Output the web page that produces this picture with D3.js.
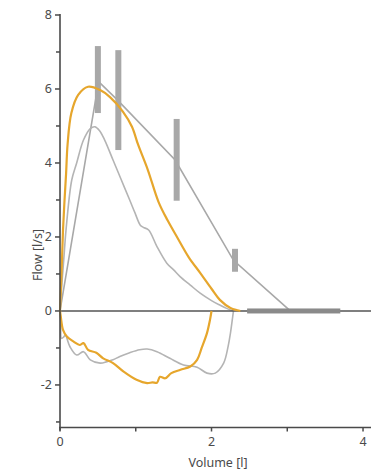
<!DOCTYPE html>
<html>
<head>
<meta charset="utf-8">
<script src="https://cdn.jsdelivr.net/npm/d3@7/dist/d3.min.js"></script>
<style>
  html, body { margin: 0; padding: 0; background: #fff; }
  svg { display: block; font-family: "Noto Sans", "Open Sans", sans-serif; }
</style>
</head>
<body>
<div id="chart"></div>
<script>
// Axis ticks
const xTicks = [0, 2, 4];
const xMinorTicks = [1, 3];
const yTicks = [-2, 0, 2, 4, 6, 8];
const yMinorTicks = [-3, -1, 1, 3, 5, 7];

// Predicted curve: origin, PEF, MEF75, MEF50, MEF25, FVC
const predVolume = [0, 0.51, 0.76, 1.52, 2.29, 3.04];
const predFlow   = [0, 6.2, 5.7, 4.08, 1.37, 0];

// Normal ranges at each predicted point (volume, low, high)
const rangeVolume = [0.50, 0.77, 1.54, 2.31];
const rangeLow    = [5.35, 4.35, 2.98, 1.06];
const rangeHigh   = [7.16, 7.05, 5.19, 1.68];

// FVC range on the volume axis
const fvcRange = [2.47, 3.70];

// Measured expiration (current)
const expVolume = [0, 0.02, 0.04, 0.06, 0.08, 0.10, 0.15, 0.24, 0.37, 0.53, 0.66, 0.83, 0.95, 1.03, 1.16, 1.30, 1.42, 1.55, 1.70, 1.85, 2.00, 2.11, 2.25, 2.34, 2.38];
const expFlow   = [0, 1.0, 2.2, 3.0, 3.7, 4.5, 5.35, 5.84, 6.06, 5.97, 5.78, 5.39, 4.98, 4.5, 3.81, 2.95, 2.45, 1.98, 1.45, 1.03, 0.6, 0.3, 0.08, 0.02, 0];

// Measured inspiration (current)
const inspVolume = [0, 0.01, 0.04, 0.09, 0.18, 0.26, 0.31, 0.37, 0.48, 0.57, 0.70, 0.84, 1.01, 1.15, 1.22, 1.28, 1.32, 1.39, 1.47, 1.59, 1.72, 1.81, 1.87, 1.94, 1.98, 2.0];
const inspFlow   = [0, -0.15, -0.51, -0.69, -0.83, -0.92, -0.87, -1.05, -1.13, -1.28, -1.41, -1.64, -1.86, -1.95, -1.93, -1.94, -1.78, -1.82, -1.68, -1.59, -1.5, -1.32, -1.0, -0.6, -0.24, 0];

// Earlier trial, expiration
const prevExpVolume = [0, 0.02, 0.05, 0.08, 0.155, 0.22, 0.31, 0.40, 0.46, 0.52, 0.59, 0.70, 0.81, 0.92, 0.99, 1.06, 1.10, 1.17, 1.28, 1.41, 1.50, 1.585, 1.72, 1.85, 2.0, 2.11, 2.2, 2.29];
const prevExpFlow   = [0, 0.6, 1.4, 2.2, 3.54, 4.0, 4.62, 4.93, 4.98, 4.88, 4.62, 4.08, 3.54, 3.0, 2.65, 2.32, 2.26, 2.19, 1.74, 1.29, 1.11, 0.93, 0.7, 0.48, 0.28, 0.16, 0.07, 0];

// Earlier trial, inspiration
const prevInspVolume = [0, 0.01, 0.02, 0.05, 0.07, 0.13, 0.22, 0.31, 0.40, 0.53, 0.62, 0.70, 0.79, 0.92, 1.05, 1.15, 1.28, 1.45, 1.63, 1.81, 1.94, 2.05, 2.16, 2.22, 2.25, 2.28, 2.29];
const prevInspFlow   = [0, -0.3, -0.74, -0.7, -0.65, -0.96, -1.19, -1.1, -1.32, -1.41, -1.37, -1.32, -1.23, -1.13, -1.05, -1.03, -1.1, -1.28, -1.46, -1.52, -1.68, -1.68, -1.41, -0.95, -0.6, -0.15, 0];

const W = 371, H = 474;
const svg = d3.select("#chart").append("svg").attr("width", W).attr("height", H);

const x = d3.scaleLinear().domain([0, 4.1]).range([60, 370.6]);
const y = d3.scaleLinear().domain([-3.15, 8]).range([427.5, 15]);

const axisColor = "#4a4a4a";
const textColor = "#4a4a4a";

const pts = (vs, fs) => vs.map((v, i) => [v, fs[i]]);
const line = d3.line().x(d => x(d[0])).y(d => y(d[1]));
const smooth = d3.line().x(d => x(d[0])).y(d => y(d[1])).curve(d3.curveCatmullRom.alpha(0.5));

// Normal range bars
svg.append("g").selectAll("rect").data(rangeVolume).join("rect")
  .attr("x", d => x(d) - 3)
  .attr("width", 6)
  .attr("y", (d, i) => y(rangeHigh[i]))
  .attr("height", (d, i) => y(rangeLow[i]) - y(rangeHigh[i]))
  .attr("fill", "#a8a8a8");

// Predicted curve
svg.append("path").datum(pts(predVolume, predFlow))
  .attr("d", line).attr("fill", "none")
  .attr("stroke", "#a8a8a8").attr("stroke-width", 1.6);

// Earlier trial
[[prevExpVolume, prevExpFlow], [prevInspVolume, prevInspFlow]].forEach(([v, f]) => {
  svg.append("path").datum(pts(v, f))
    .attr("d", smooth).attr("fill", "none")
    .attr("stroke", "#b4b4b4").attr("stroke-width", 1.6)
    .attr("stroke-linejoin", "round");
});

// Zero flow line
svg.append("line")
  .attr("x1", x(0)).attr("x2", W)
  .attr("y1", y(0)).attr("y2", y(0))
  .attr("stroke", "#555").attr("stroke-width", 1.6);

// FVC range bar
svg.append("rect")
  .attr("x", x(fvcRange[0])).attr("width", x(fvcRange[1]) - x(fvcRange[0]))
  .attr("y", y(0) - 2.5).attr("height", 5)
  .attr("fill", "#8a8a8a");

// Current trial
[[expVolume, expFlow], [inspVolume, inspFlow]].forEach(([v, f]) => {
  svg.append("path").datum(pts(v, f))
    .attr("d", smooth).attr("fill", "none")
    .attr("stroke", "#e6a62c").attr("stroke-width", 2.2)
    .attr("stroke-linejoin", "round");
});

// Y axis
const yAxis = svg.append("g");
yAxis.append("line").attr("x1", x(0)).attr("x2", x(0))
  .attr("y1", y(8) - 1).attr("y2", y(-3.15) + 3)
  .attr("stroke", axisColor).attr("stroke-width", 1.6);
yAxis.selectAll(".maj").data(yTicks).join("line")
  .attr("x1", x(0) - 5).attr("x2", x(0))
  .attr("y1", d => y(d)).attr("y2", d => y(d))
  .attr("stroke", axisColor).attr("stroke-width", 1.5);
yAxis.selectAll(".min").data(yMinorTicks).join("line")
  .attr("x1", x(0) - 4).attr("x2", x(0))
  .attr("y1", d => y(d)).attr("y2", d => y(d))
  .attr("stroke", axisColor).attr("stroke-width", 1.5);
yAxis.selectAll("text").data(yTicks).join("text")
  .attr("x", x(0) - 8).attr("y", d => y(d))
  .attr("dy", "0.35em").attr("text-anchor", "end")
  .attr("font-size", 12.5).attr("fill", textColor)
  .text(d => d);

// X axis
const xAxis = svg.append("g");
xAxis.append("line").attr("x1", x(0) - 1).attr("x2", W)
  .attr("y1", y(-3.15)).attr("y2", y(-3.15))
  .attr("stroke", axisColor).attr("stroke-width", 1.6);
xAxis.selectAll(".t").data(xTicks.concat(xMinorTicks)).join("line")
  .attr("x1", d => x(d)).attr("x2", d => x(d))
  .attr("y1", y(-3.15)).attr("y2", y(-3.15) + 4)
  .attr("stroke", axisColor).attr("stroke-width", 1.5);
xAxis.selectAll("text").data(xTicks).join("text")
  .attr("x", d => x(d)).attr("y", 446)
  .attr("text-anchor", "middle")
  .attr("font-size", 12.5).attr("fill", textColor)
  .text(d => d);

// Axis titles
svg.append("text")
  .attr("x", 218).attr("y", 467)
  .attr("text-anchor", "middle")
  .attr("font-size", 12.5).attr("fill", textColor)
  .text("Volume [l]");
svg.append("text")
  .attr("transform", "translate(42,255) rotate(-90)")
  .attr("text-anchor", "middle")
  .attr("font-size", 12.5).attr("fill", textColor)
  .text("Flow [l/s]");
</script>
</body>
</html>
